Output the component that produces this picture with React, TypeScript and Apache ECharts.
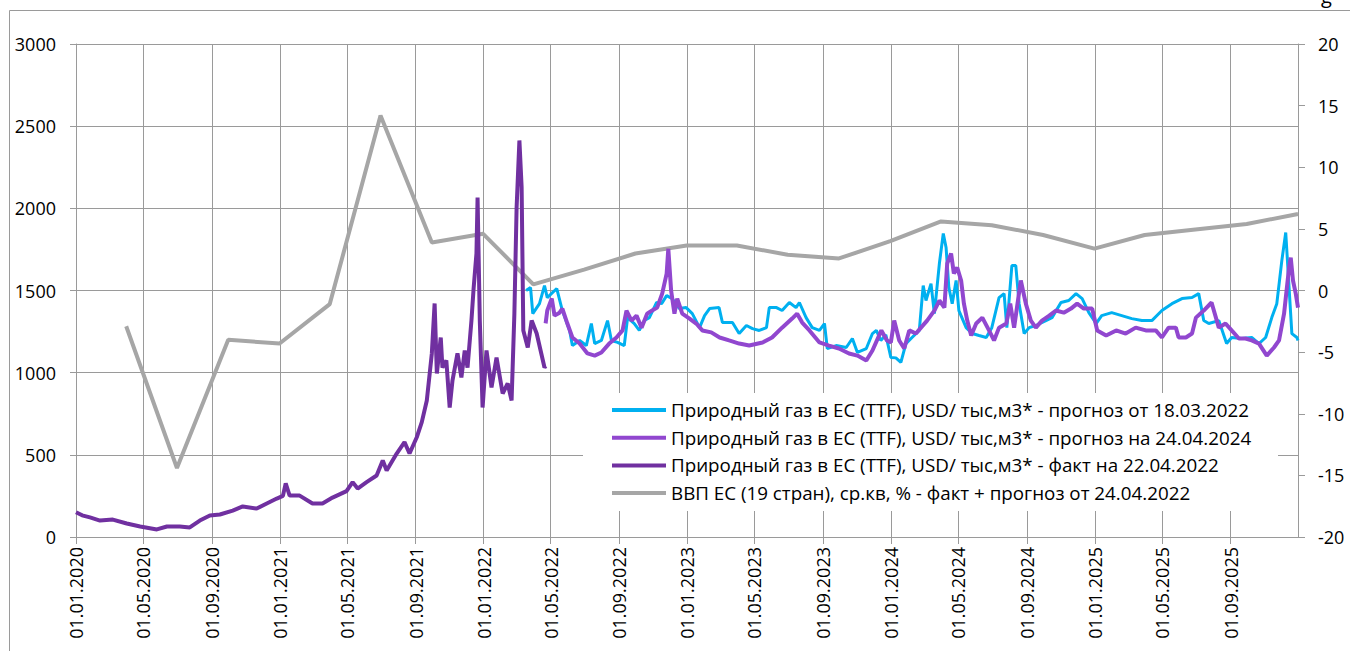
import React, { useEffect, useRef } from "react";
import * as echarts from "echarts";

const FONT = "'Open Sans', 'Noto Sans', sans-serif";

const NAME_FC_0318 = "Природный газ в ЕС (TTF), USD/ тыс,м3* - прогноз от 18.03.2022";
const NAME_FC_0424 = "Природный газ в ЕС (TTF), USD/ тыс,м3* - прогноз на 24.04.2024";
const NAME_FACT = "Природный газ в ЕС (TTF), USD/ тыс,м3* - факт на 22.04.2022";
const NAME_GDP = "ВВП ЕС (19 стран), ср.кв, % - факт + прогноз от 24.04.2022";

const LABEL_MONTHS = ["01", "05", "09"];

// Gas price, fact (USD per 1000 m3)
const gasFact: [string, number][] = [
  ["2020-01-01", 151], ["2020-01-12", 132], ["2020-01-26", 119], ["2020-02-13", 100], ["2020-03-07", 106],
  ["2020-04-01", 82], ["2020-04-25", 64], ["2020-05-25", 46], ["2020-06-12", 64],
  ["2020-07-05", 64], ["2020-07-23", 58], ["2020-08-10", 100], ["2020-08-28", 131],
  ["2020-09-15", 137], ["2020-10-08", 161], ["2020-10-26", 186], ["2020-11-20", 173],
  ["2020-12-08", 204], ["2020-12-26", 234], ["2021-01-06", 250], ["2021-01-11", 326],
  ["2021-01-18", 252], ["2021-02-05", 252], ["2021-02-28", 204], ["2021-03-18", 204],
  ["2021-04-05", 240], ["2021-04-30", 279], ["2021-05-11", 334], ["2021-05-20", 295],
  ["2021-06-05", 334], ["2021-06-23", 374], ["2021-07-04", 466], ["2021-07-11", 405],
  ["2021-07-29", 508], ["2021-08-12", 577], ["2021-08-21", 508], ["2021-09-03", 607],
  ["2021-09-12", 699], ["2021-09-21", 831], ["2021-09-30", 1117], ["2021-10-05", 1421],
  ["2021-10-09", 995], ["2021-10-16", 1214], ["2021-10-19", 1031], ["2021-10-26", 1074],
  ["2021-11-01", 788], ["2021-11-06", 952], ["2021-11-15", 1117], ["2021-11-22", 971],
  ["2021-11-28", 1135], ["2021-12-03", 1031], ["2021-12-10", 1317], ["2021-12-14", 1518],
  ["2021-12-19", 1725], ["2021-12-21", 2066], ["2021-12-25", 1317], ["2021-12-30", 788],
  ["2022-01-06", 1135], ["2022-01-15", 910], ["2022-01-24", 1092], ["2022-02-04", 873],
  ["2022-02-13", 934], ["2022-02-20", 831], ["2022-02-25", 1359], ["2022-03-01", 2005],
  ["2022-03-06", 2413], ["2022-03-10", 2127], ["2022-03-13", 1257], ["2022-03-21", 1153],
  ["2022-03-28", 1317], ["2022-04-06", 1238], ["2022-04-20", 1031], ["2022-04-22", 1040],
];

// Gas price forecast of 18.03.2022
const gasForecast0318: [string, number][] = [
  ["2022-03-18", 1500], ["2022-03-26", 1518], ["2022-03-30", 1359], ["2022-04-11", 1420],
  ["2022-04-20", 1530], ["2022-04-25", 1457], ["2022-05-12", 1512], ["2022-05-22", 1378],
  ["2022-06-04", 1257], ["2022-06-09", 1165], ["2022-06-22", 1196], ["2022-07-04", 1165],
  ["2022-07-13", 1299], ["2022-07-19", 1177], ["2022-07-31", 1196], ["2022-08-11", 1317],
  ["2022-08-18", 1196], ["2022-08-29", 1184], ["2022-09-10", 1165], ["2022-09-16", 1335],
  ["2022-09-28", 1299], ["2022-10-07", 1257], ["2022-10-16", 1317], ["2022-10-25", 1335],
  ["2022-11-07", 1427], ["2022-11-16", 1420], ["2022-11-25", 1469], ["2022-12-05", 1451],
  ["2022-12-18", 1390], ["2022-12-30", 1396], ["2023-01-10", 1359], ["2023-01-23", 1274],
  ["2023-02-01", 1347], ["2023-02-10", 1390], ["2023-02-27", 1396], ["2023-03-05", 1305],
  ["2023-03-23", 1305], ["2023-04-04", 1238], ["2023-04-17", 1287], ["2023-04-28", 1268],
  ["2023-05-10", 1257], ["2023-05-23", 1274], ["2023-05-28", 1396], ["2023-06-10", 1396],
  ["2023-06-20", 1378], ["2023-07-03", 1427], ["2023-07-15", 1396], ["2023-07-21", 1427],
  ["2023-08-02", 1335], ["2023-08-13", 1274], ["2023-08-26", 1257], ["2023-09-04", 1299],
  ["2023-09-09", 1147], ["2023-09-25", 1165], ["2023-10-13", 1153], ["2023-10-24", 1208],
  ["2023-11-02", 1123], ["2023-11-18", 1147], ["2023-11-29", 1238], ["2023-12-06", 1257],
  ["2023-12-14", 1196], ["2023-12-23", 1230], ["2024-01-01", 1092], ["2024-01-10", 1090],
  ["2024-01-19", 1062], ["2024-01-28", 1177], ["2024-02-08", 1214], ["2024-02-21", 1257],
  ["2024-02-28", 1530], ["2024-03-04", 1439], ["2024-03-13", 1542], ["2024-03-19", 1359],
  ["2024-03-28", 1664], ["2024-04-04", 1847], ["2024-04-09", 1762], ["2024-04-14", 1518],
  ["2024-04-20", 1420], ["2024-04-27", 1561], ["2024-05-02", 1378], ["2024-05-15", 1274],
  ["2024-05-26", 1238], ["2024-06-07", 1226], ["2024-06-20", 1214], ["2024-06-30", 1274],
  ["2024-07-13", 1457], ["2024-07-22", 1481], ["2024-07-27", 1274], ["2024-08-05", 1652],
  ["2024-08-12", 1652], ["2024-08-18", 1420], ["2024-08-27", 1238], ["2024-09-05", 1274],
  ["2024-09-17", 1287], ["2024-10-05", 1317], ["2024-10-16", 1335], ["2024-11-01", 1427],
  ["2024-11-15", 1439], ["2024-11-28", 1481], ["2024-12-09", 1451], ["2024-12-21", 1365],
  ["2025-01-03", 1299], ["2025-01-13", 1347], ["2025-01-31", 1365], ["2025-02-18", 1347],
  ["2025-03-08", 1329], ["2025-03-26", 1317], ["2025-04-13", 1317], ["2025-05-01", 1378],
  ["2025-05-19", 1420], ["2025-06-06", 1451], ["2025-06-24", 1457], ["2025-07-06", 1481],
  ["2025-07-15", 1317], ["2025-07-24", 1299], ["2025-08-11", 1317], ["2025-08-25", 1177],
  ["2025-09-03", 1214], ["2025-09-21", 1208], ["2025-10-09", 1214], ["2025-10-22", 1177],
  ["2025-11-03", 1214], ["2025-11-14", 1335], ["2025-11-23", 1420], ["2025-12-02", 1682],
  ["2025-12-09", 1853], ["2025-12-15", 1518], ["2025-12-20", 1238], ["2025-12-29", 1214],
  ["2025-12-31", 1196],
];

// Gas price forecast (24.04)
const gasForecast0424: [string, number][] = [
  ["2022-04-22", 1300], ["2022-04-25", 1378], ["2022-05-03", 1451], ["2022-05-08", 1347],
  ["2022-05-17", 1365], ["2022-05-22", 1390], ["2022-05-31", 1299], ["2022-06-09", 1214],
  ["2022-06-22", 1177], ["2022-07-06", 1117], ["2022-07-19", 1104], ["2022-07-31", 1123],
  ["2022-08-14", 1177], ["2022-08-27", 1214], ["2022-09-07", 1257], ["2022-09-14", 1378],
  ["2022-09-23", 1317], ["2022-10-02", 1347], ["2022-10-11", 1274], ["2022-10-21", 1359],
  ["2022-10-30", 1378], ["2022-11-08", 1396], ["2022-11-17", 1481], ["2022-11-25", 1603],
  ["2022-11-28", 1754], ["2022-12-03", 1500], ["2022-12-09", 1359], ["2022-12-14", 1451],
  ["2022-12-23", 1359], ["2023-01-05", 1329], ["2023-01-17", 1299], ["2023-01-28", 1257],
  ["2023-02-13", 1245], ["2023-02-28", 1214], ["2023-03-17", 1196], ["2023-04-04", 1177],
  ["2023-04-22", 1165], ["2023-05-16", 1184], ["2023-06-02", 1214], ["2023-06-20", 1274],
  ["2023-07-08", 1329], ["2023-07-17", 1359], ["2023-07-26", 1305], ["2023-08-08", 1257],
  ["2023-08-26", 1184], ["2023-09-12", 1165], ["2023-09-30", 1147], ["2023-10-18", 1117],
  ["2023-11-02", 1104], ["2023-11-18", 1074], ["2023-11-29", 1135], ["2023-12-15", 1257],
  ["2023-12-25", 1196], ["2024-01-01", 1184], ["2024-01-07", 1317], ["2024-01-16", 1196],
  ["2024-01-25", 1147], ["2024-02-03", 1257], ["2024-02-15", 1238], ["2024-02-24", 1274],
  ["2024-03-06", 1317], ["2024-03-19", 1378], ["2024-03-28", 1439], ["2024-04-06", 1396],
  ["2024-04-11", 1664], ["2024-04-18", 1725], ["2024-04-23", 1603], ["2024-04-29", 1640],
  ["2024-05-06", 1561], ["2024-05-11", 1420], ["2024-05-17", 1317], ["2024-05-24", 1226],
  ["2024-06-02", 1299], ["2024-06-13", 1335], ["2024-06-25", 1257], ["2024-07-04", 1196],
  ["2024-07-13", 1274], ["2024-07-26", 1299], ["2024-08-02", 1420], ["2024-08-09", 1274],
  ["2024-08-21", 1561], ["2024-08-30", 1420], ["2024-09-08", 1317], ["2024-09-17", 1274],
  ["2024-09-28", 1317], ["2024-10-11", 1347], ["2024-10-23", 1378], ["2024-11-06", 1365],
  ["2024-11-19", 1390], ["2024-11-30", 1420], ["2024-12-12", 1390], ["2024-12-27", 1390],
  ["2025-01-05", 1257], ["2025-01-21", 1226], ["2025-02-08", 1257], ["2025-02-25", 1238],
  ["2025-03-15", 1274], ["2025-04-02", 1257], ["2025-04-20", 1257], ["2025-05-01", 1214],
  ["2025-05-13", 1274], ["2025-05-26", 1274], ["2025-05-31", 1214], ["2025-06-13", 1214],
  ["2025-06-24", 1238], ["2025-07-01", 1335], ["2025-07-15", 1378], ["2025-07-29", 1427],
  ["2025-08-11", 1274], ["2025-08-23", 1299], ["2025-09-03", 1257], ["2025-09-16", 1208],
  ["2025-09-28", 1208], ["2025-10-09", 1196], ["2025-10-22", 1177], ["2025-11-05", 1104],
  ["2025-11-18", 1153], ["2025-11-27", 1196], ["2025-12-06", 1359], ["2025-12-15", 1640],
  ["2025-12-18", 1700], ["2025-12-22", 1561], ["2025-12-27", 1481], ["2025-12-31", 1396],
];

// EU GDP, % y/y, quarterly (right axis)
const gdp: [string, number][] = [
  ["2020-03-31", -2.9], ["2020-06-30", -14.4], ["2020-09-30", -4.0], ["2020-12-31", -4.3],
  ["2021-03-31", -1.1], ["2021-06-30", 14.2], ["2021-09-30", 3.9], ["2021-12-31", 4.6],
  ["2022-03-31", 0.5], ["2022-06-30", 1.7], ["2022-09-30", 3.0], ["2022-12-31", 3.65],
  ["2023-03-31", 3.65], ["2023-06-30", 2.9], ["2023-09-30", 2.6], ["2023-12-31", 4.0],
  ["2024-03-31", 5.6], ["2024-06-30", 5.3], ["2024-09-30", 4.5], ["2024-12-31", 3.4],
  ["2025-03-31", 4.5], ["2025-06-30", 4.95], ["2025-09-30", 5.4], ["2025-12-31", 6.2],
];

const START = Date.UTC(2020, 0, 1);
const END = Date.UTC(2025, 11, 31);
const DAY = 86400000;

function dayIndex(s: string): number {
  const [y, m, d] = s.split("-").map(Number);
  return Math.round((Date.UTC(y, m - 1, d) - START) / DAY);
}

function buildCategories(): string[] {
  const out: string[] = [];
  for (let t = START; t <= END; t += DAY) {
    const dt = new Date(t);
    const dd = String(dt.getUTCDate()).padStart(2, "0");
    const mm = String(dt.getUTCMonth() + 1).padStart(2, "0");
    out.push(`${dd}.${mm}.${dt.getUTCFullYear()}`);
  }
  return out;
}

const toXY = (arr: [string, number][]) => arr.map(([d, v]) => [dayIndex(d), v]);

const isMark = (_i: number, v: string) =>
  typeof v === "string" && v.startsWith("01.") && LABEL_MONTHS.includes(v.slice(3, 5));

export default function App() {
  const ref = useRef<HTMLDivElement>(null);
  useEffect(() => {
    if (!ref.current) return;
    const chart = echarts.init(ref.current, undefined, { renderer: "svg" });
    const grid = "#9a9a9a";
    const categories = buildCategories();
    chart.setOption({
      animation: false,
      backgroundColor: "#ffffff",
      textStyle: { fontFamily: FONT },
      grid: { left: 76, right: 52, top: 44, bottom: 114, containLabel: false },
      legend: {
        data: [NAME_FC_0318, NAME_FC_0424, NAME_FACT, NAME_GDP],
        orient: "vertical",
        left: 612,
        top: 400,
        padding: 0,
        icon: "rect",
        itemWidth: 54,
        itemHeight: 4,
        itemGap: 7.7,
        selectedMode: false,
        textStyle: { fontFamily: FONT, fontSize: 18.8, color: "#000", lineHeight: 20 },
        z: 10,
      },
      graphic: [
        { type: "rect", z: 1, shape: { x: 583, y: 393, width: 695, height: 118 }, style: { fill: "#ffffff" } },
        { type: "line", shape: { x1: 9.5, y1: 10.5, x2: 1350, y2: 10.5 }, style: { stroke: grid, lineWidth: 1 } },
        { type: "line", shape: { x1: 9.5, y1: 10.5, x2: 9.5, y2: 651 }, style: { stroke: grid, lineWidth: 1 } },
        { type: "text", x: 1321, y: 5, style: { text: "g", font: `20px ${FONT}`, fill: "#000", verticalAlign: "bottom" } },
      ],
      xAxis: {
        type: "category",
        data: categories,
        boundaryGap: false,
        axisLine: { show: true, lineStyle: { color: grid, width: 1 } },
        axisTick: { show: true, interval: isMark, length: 7, lineStyle: { color: grid } },
        axisLabel: {
          interval: isMark,
          rotate: 90,
          fontSize: 18,
          color: "#000",
          fontFamily: FONT,
          margin: 10,
        },
        splitLine: { show: true, interval: isMark, lineStyle: { color: grid, width: 1 } },
      },
      yAxis: [
        {
          type: "value",
          position: "left",
          min: 0,
          max: 3000,
          interval: 500,
          axisLine: { show: true, lineStyle: { color: grid } },
          axisTick: { show: true, length: 6, lineStyle: { color: grid } },
          axisLabel: { fontSize: 18, color: "#000", fontFamily: FONT, margin: 20, formatter: (v: number) => String(v) },
          splitLine: { show: true, lineStyle: { color: grid, width: 1 } },
        },
        {
          type: "value",
          position: "right",
          min: -20,
          max: 20,
          interval: 5,
          axisLine: { show: true, lineStyle: { color: grid } },
          axisTick: { show: true, length: 7, lineStyle: { color: grid } },
          axisLabel: { fontSize: 18, color: "#000", fontFamily: FONT, margin: 20, formatter: (v: number) => String(v) },
          splitLine: { show: false },
        },
      ],
      series: [
        {
          name: NAME_GDP,
          type: "line",
          yAxisIndex: 1,
          data: toXY(gdp),
          showSymbol: false,
          symbol: "none",
          color: "#a6a6a6",
          lineStyle: { width: 4, color: "#a6a6a6" },
          z: 2,
        },
        {
          name: NAME_FC_0318,
          type: "line",
          data: toXY(gasForecast0318),
          showSymbol: false,
          symbol: "none",
          color: "#00b0f0",
          lineStyle: { width: 3, color: "#00b0f0" },
          z: 3,
        },
        {
          name: NAME_FC_0424,
          type: "line",
          data: toXY(gasForecast0424),
          showSymbol: false,
          symbol: "none",
          color: "#9147cf",
          lineStyle: { width: 4, color: "#9147cf" },
          z: 4,
        },
        {
          name: NAME_FACT,
          type: "line",
          data: toXY(gasFact),
          showSymbol: false,
          symbol: "none",
          color: "#7030a0",
          lineStyle: { width: 4, color: "#7030a0" },
          z: 5,
        },
      ],
    });
    return () => chart.dispose();
  }, []);
  return (
    <div
      ref={ref}
      style={{ position: "absolute", left: 0, top: 0, width: 1350, height: 651 }}
    />
  );
}
